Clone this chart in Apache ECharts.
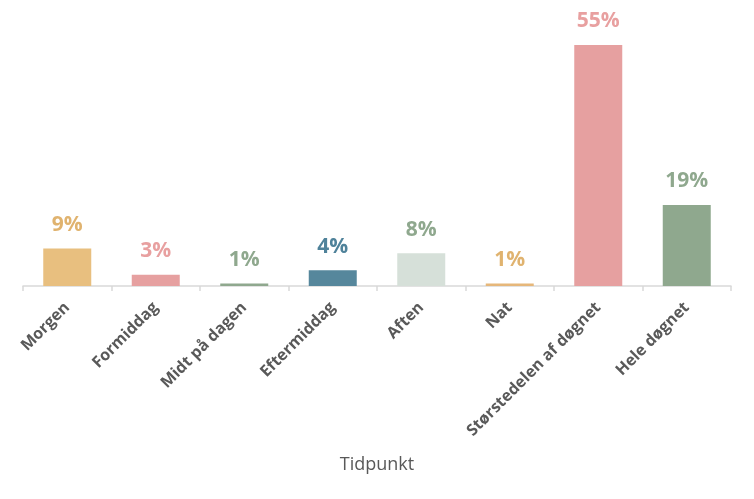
<!DOCTYPE html>
<html><head><meta charset="utf-8">
<script src="https://cdn.jsdelivr.net/npm/echarts@6/dist/echarts.min.js"></script>
<style>html,body{margin:0;padding:0;background:#fff}#c{width:754px;height:499px}</style>
</head><body><div id="c"></div>
<script>
const categories = ["Morgen","Formiddag","Midt på dagen","Eftermiddag","Aften","Nat","Størstedelen af døgnet","Hele døgnet"];
const values = [8.6, 2.6, 0.6, 3.6, 7.5, 0.6, 55.3, 18.6];
const barColors = ["#E8BF7F","#E6A0A0","#8FA88E","#56879C","#D6E0D9","#E6B77A","#E6A0A0","#8FA88E"];
const labelColors = ["#E0B36F","#E8A0A0","#8FA88E","#4F829A","#8FA88E","#E0B36F","#E8A0A0","#8FA88E"];

const chart = echarts.init(document.getElementById('c'));
chart.setOption({
  animation: false,
  grid: {left: 23, right: 23, top: 24.5, bottom: 213, containLabel: false},
  xAxis: {
    type: 'category', data: categories,
    name: 'Tidpunkt', nameLocation: 'middle', nameGap: 170,
    nameTextStyle: {fontFamily: 'Open Sans', fontSize: 18, color: '#595959'},
    axisLine: {lineStyle: {color: '#D9D9D9', width: 1.5}},
    axisTick: {show: true, length: 5, lineStyle: {color: '#D9D9D9', width: 1.5}},
    axisLabel: {rotate: 45, interval: 0, fontFamily: 'Open Sans', fontWeight: 'bold', fontSize: 16, color: '#595959', margin: 19}
  },
  yAxis: {type: 'value', min: 0, max: 60, show: false, splitLine: {show: false}},
  series: [{
    type: 'bar', barWidth: 48,
    data: values.map((v, i) => ({
      value: v,
      itemStyle: {color: barColors[i]},
      label: {color: labelColors[i]}
    })),
    label: {show: true, position: 'top', distance: 13, fontFamily: 'Open Sans', fontWeight: 'bold', fontSize: 21,
      formatter: p => Math.round(p.value) + '%'}
  }]
});
</script></body></html>
